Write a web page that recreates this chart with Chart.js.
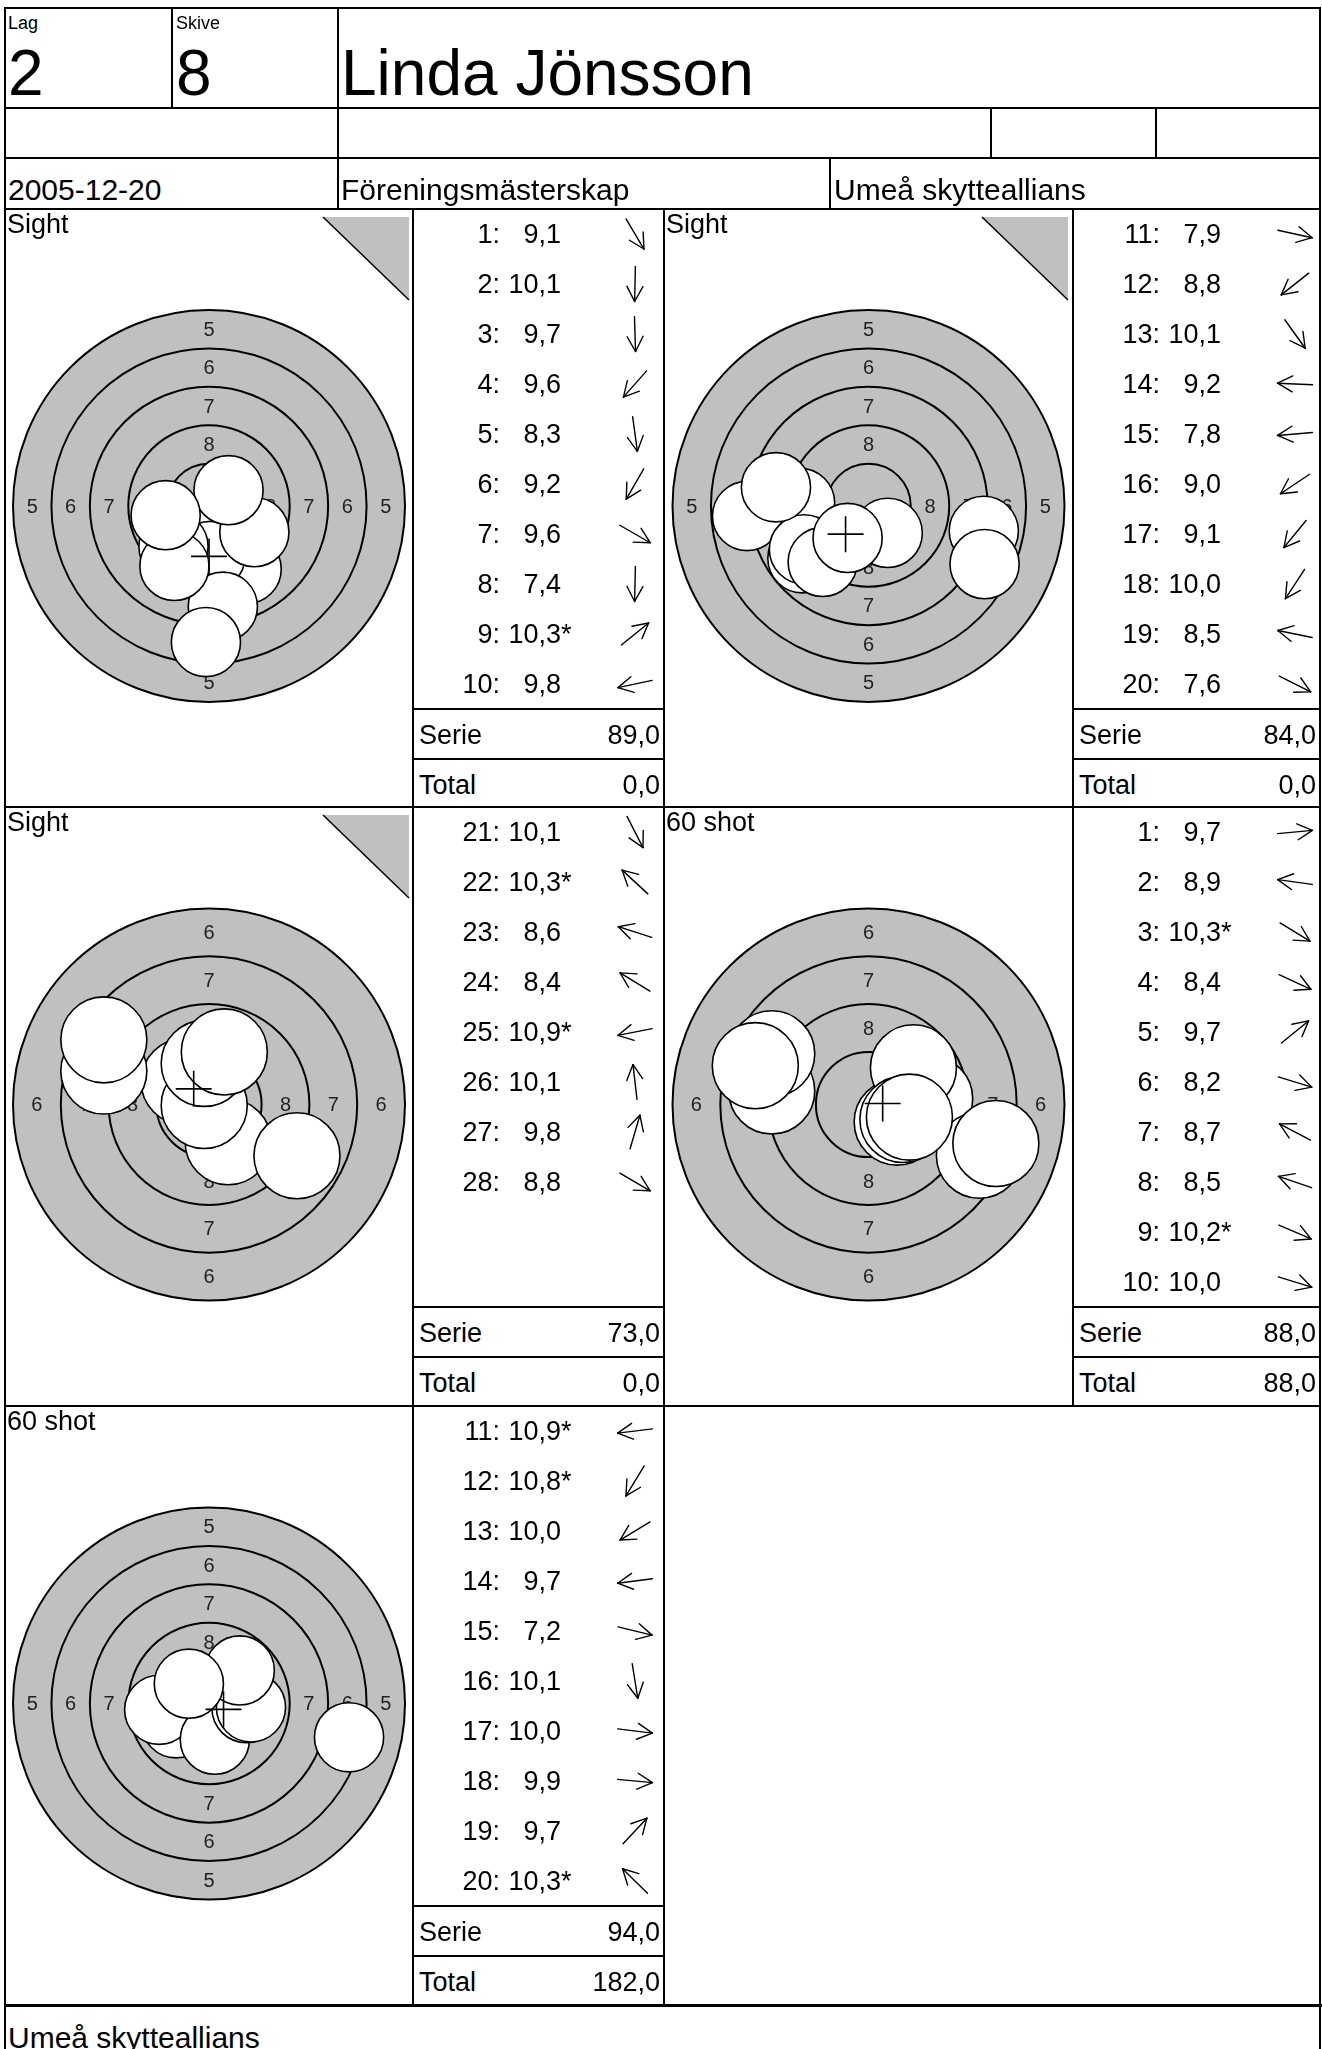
<!DOCTYPE html>
<html><head><meta charset="utf-8">
<script src="https://cdn.jsdelivr.net/npm/chart.js@4.4.1/dist/chart.umd.min.js"></script>
<style>
html,body{margin:0;padding:0;background:#fff;}
body{width:1322px;height:2049px;position:relative;overflow:hidden;font-family:"Liberation Sans",Arial,Helvetica,sans-serif;color:#000;}
.ln{position:absolute;background:#000;z-index:3;}
.t{position:absolute;white-space:nowrap;line-height:1;z-index:4;}
canvas{position:absolute;z-index:1;}
svg{position:absolute;z-index:2;overflow:visible;}
</style></head><body>
<script>
// ---------------- DATA ----------------
const lagNo = "2", skiveNo = "8", shooterName = "Linda Jönsson";
const dateText = "2005-12-20", competition = "Föreningsmästerskap", club = "Umeå skytteallians";

// 10 m air rifle target: ring boundaries (radius, mm) and their values
const ringValues = [5, 6, 7, 8, 9];
const ringRadiusMm = [12.75, 10.25, 7.75, 5.25, 2.75];
const shotRadiusMm = 2.25;

// Panel 1 – Sight
const p1Label = "Sight", p1Sight = true, p1Outer = 5;
const p1No = [1,2,3,4,5,6,7,8,9,10];
const p1Score = ["9,1","10,1","9,7","9,6","8,3","9,2","9,6","7,4","10,3*","9,8"];
const p1X = [2.45,-0.05,0.1,-2.31,0.9,-2.25,2.95,-0.2,1.27,-2.82];
const p1Y = [-4.1,-2.25,-3.25,-2.63,-6.55,-3.9,-1.7,-8.85,1.03,-0.6];
const p1Serie = "89,0", p1Total = "0,0";

// Panel 2 – Sight
const p2Label = "Sight", p2Sight = true, p2Outer = 5;
const p2No = [11,12,13,14,15,16,17,18,19,20];
const p2Score = ["7,9","8,8","10,1","9,2","7,8","9,0","9,1","10,0","8,5","7,6"];
const p2X = [7.5,-4.3,1.25,-4.45,-7.9,-4.2,-2.98,-1.36,-6.02,7.55];
const p2Y = [-1.62,-3.4,-1.75,0.2,-0.65,-2.82,-3.64,-2.08,1.22,-3.78];
const p2Serie = "84,0", p2Total = "0,0";

// Panel 3 – Sight
const p3Label = "Sight", p3Sight = true, p3Outer = 6;
const p3No = [21,22,23,24,25,26,27,28];
const p3Score = ["10,1","10,3*","8,6","8,4","10,9*","10,1","9,8","8,8"];
const p3X = [1.0,-1.3,-5.5,-5.5,-0.25,-0.25,0.8,4.6];
const p3Y = [-1.95,1.2,1.75,3.38,-0.05,2.15,2.75,-2.68];
const p3Serie = "73,0", p3Total = "0,0";

// Panel 4 – 60 shot
const p4Label = "60 shot", p4Sight = false, p4Outer = 6;
const p4No = [1,2,3,4,5,6,7,8,9,10];
const p4Score = ["9,7","8,9","10,3*","8,4","9,7","8,2","8,7","8,5","10,2*","10,0"];
const p4X = [3.2,-5.06,1.5,5.8,2.35,6.66,-5.06,-5.92,1.8,2.14];
const p4Y = [0.3,0.71,-0.92,-2.65,1.92,-2.04,2.65,2.03,-0.78,-0.66];
const p4Serie = "88,0", p4Total = "88,0";

// Panel 5 – 60 shot
const p5Label = "60 shot", p5Sight = false, p5Outer = 5;
const p5No = [11,12,13,14,15,16,17,18,19,20];
const p5Score = ["10,9*","10,8*","10,0","9,7","7,2","10,1","10,0","9,9","9,7","10,3*"];
const p5X = [-0.25,-0.26,-2.14,-3.24,9.11,0.38,2.44,2.73,2.0,-1.31];
const p5Y = [-0.03,-0.43,-1.29,-0.41,-2.2,-2.35,-0.3,-0.25,2.15,1.29];
const p5Serie = "94,0", p5Total = "182,0";

// ---------------- LAYOUT HELPERS ----------------
const body = document.body;
function addLine(x, y, w, h){ const d=document.createElement('div'); d.className='ln';
  d.style.left=x+'px'; d.style.top=y+'px'; d.style.width=w+'px'; d.style.height=h+'px'; body.appendChild(d); }
function hl(x1,x2,y,t=2){ addLine(x1-t/2, y-t/2, x2-x1+t, t); }
function vl(x,y1,y2,t=2){ addLine(x-t/2, y1-t/2, t, y2-y1+t); }
function txt(s, x, base, size, align){ const d=document.createElement('div'); d.className='t'; d.textContent=s;
  d.style.fontSize=size+'px'; d.style.top=(base-0.8465*size)+'px';
  if(align==='right'){ d.style.left=(x-600)+'px'; d.style.width='600px'; d.style.textAlign='right'; }
  else d.style.left=x+'px';
  body.appendChild(d); return d; }
const SVGNS='http://www.w3.org/2000/svg';
function svgEl(tag, attrs, parent){ const e=document.createElementNS(SVGNS,tag); for(const k in attrs) e.setAttribute(k,attrs[k]); if(parent) parent.appendChild(e); return e; }

// ---------------- HEADER ----------------
const XL=5, XR=1320, YT=8;
hl(XL, XR, YT); vl(XL, YT, 2049); vl(XR, YT, 2049);
hl(XL, XR, 108); hl(XL, XR, 158); hl(XL, XR, 209);
vl(172, YT, 108); vl(338, YT, 209); vl(991, 108, 158); vl(1156, 108, 158); vl(830, 158, 209);
txt("Lag", 8, 29, 18); txt("Skive", 176, 29, 18);
txt(lagNo, 8, 95, 64); txt(skiveNo, 176, 95, 64); txt(shooterName, 341, 95, 64);
txt(dateText, 8, 200, 30); txt(competition, 341, 200, 30); txt(club, 834, 200, 30);
txt(club, 8, 2048, 30);

// ---------------- TARGET PLUGIN ----------------
const TARGET_RADIUS_PX = 196;
const ringsPlugin = {
  id: 'rings',
  beforeDatasetsDraw(chart, args, opts){
    const ctx = chart.ctx, xs = chart.scales.x, ys = chart.scales.y;
    const cx = xs.getPixelForValue(0), cy = ys.getPixelForValue(0);
    const start = ringValues.indexOf(opts.outer);
    const rpx = mm => Math.abs(xs.getPixelForValue(mm) - cx);
    ctx.save();
    ctx.beginPath(); ctx.arc(cx, cy, rpx(ringRadiusMm[start]), 0, Math.PI*2);
    ctx.fillStyle = '#c0c0c0'; ctx.fill();
    ctx.strokeStyle = '#000'; ctx.lineWidth = 2;
    for(let i=start;i<ringRadiusMm.length;i++){
      ctx.beginPath(); ctx.arc(cx, cy, rpx(ringRadiusMm[i]), 0, Math.PI*2); ctx.stroke();
    }
    ctx.fillStyle = '#222'; ctx.font = '20px "Liberation Sans", Arial, sans-serif';
    ctx.textAlign = 'center'; ctx.textBaseline = 'middle';
    for(let i=start;i<ringRadiusMm.length-1;i++){
      const r = rpx((ringRadiusMm[i]+ringRadiusMm[i+1])/2);
      const v = String(ringValues[i]);
      ctx.fillText(v, cx, cy-r+1); ctx.fillText(v, cx, cy+r+1);
      ctx.fillText(v, cx-r, cy+1); ctx.fillText(v, cx+r, cy+1);
    }
    ctx.restore();
  }
};
const mean = a => a.reduce((s,v)=>s+v,0)/a.length;

// ---------------- PANELS ----------------
const panels = [
  {tx:5,   tw:408, top:209,  h:598, lx:413,  lw:251, label:p1Label, sight:p1Sight, outer:p1Outer, no:p1No, score:p1Score, x:p1X, y:p1Y, serie:p1Serie, total:p1Total},
  {tx:664, tw:409, top:209,  h:598, lx:1073, lw:247, label:p2Label, sight:p2Sight, outer:p2Outer, no:p2No, score:p2Score, x:p2X, y:p2Y, serie:p2Serie, total:p2Total},
  {tx:5,   tw:408, top:807,  h:599, lx:413,  lw:251, label:p3Label, sight:p3Sight, outer:p3Outer, no:p3No, score:p3Score, x:p3X, y:p3Y, serie:p3Serie, total:p3Total},
  {tx:664, tw:409, top:807,  h:599, lx:1073, lw:247, label:p4Label, sight:p4Sight, outer:p4Outer, no:p4No, score:p4Score, x:p4X, y:p4Y, serie:p4Serie, total:p4Total},
  {tx:5,   tw:408, top:1406, h:599, lx:413,  lw:251, label:p5Label, sight:p5Sight, outer:p5Outer, no:p5No, score:p5Score, x:p5X, y:p5Y, serie:p5Serie, total:p5Total},
];
hl(XL, XR, 807); hl(XL, XR, 1406); hl(XL, XR, 2005, 3);

panels.forEach(p => {
  // borders
  vl(p.lx, p.top, p.top+p.h); vl(p.lx+p.lw, p.top, p.top+p.h);
  hl(p.lx, p.lx+p.lw, p.top+500); hl(p.lx, p.lx+p.lw, p.top+550);
  // label
  txt(p.label, p.tx+2, p.top+25, 27);
  // sight triangle
  if(p.sight){
    const s = svgEl('svg', {width:100, height:100}); s.style.left=(p.tx+310)+'px'; s.style.top=(p.top)+'px';
    svgEl('polygon', {points:'8,8 94,8 94,91', fill:'#c0c0c0', stroke:'none'}, s);
    svgEl('line', {x1:8, y1:8, x2:94, y2:91, stroke:'#000', 'stroke-width':1.5}, s);
    body.appendChild(s);
  }
  // target chart
  const cw = p.tw, ch = p.h - 4;
  const canvas = document.createElement('canvas');
  canvas.width = cw; canvas.height = ch;
  canvas.style.left = p.tx+'px'; canvas.style.top = p.top+'px';
  canvas.style.width = cw+'px'; canvas.style.height = ch+'px';
  body.appendChild(canvas);
  const outerMm = ringRadiusMm[ringValues.indexOf(p.outer)];
  const pxPerMm = TARGET_RADIUS_PX / outerMm;
  const rx = cw/2/pxPerMm, ry = ch/2/pxPerMm;
  const shotR = c => { const s=c.chart.scales.x; return Math.abs(s.getPixelForValue(shotRadiusMm)-s.getPixelForValue(0)); };
  new Chart(canvas, {
    type: 'scatter',
    data: { datasets: [
      // mean point of impact (drawn on top)
      { data: [{x:mean(p.x), y:mean(p.y)}], pointStyle:'cross', pointRadius:18, pointHoverRadius:18,
        borderColor:'#000000', borderWidth:1.6, backgroundColor:'#000000', order:0 },
      // shots
      { data: p.x.map((v,i)=>({x:v, y:p.y[i]})), pointRadius: shotR, pointHoverRadius: shotR,
        backgroundColor:'#ffffff', borderColor:'#000000', borderWidth:1.6, pointStyle:'circle', order:1 }
    ]},
    options: {
      responsive:false, animation:false, devicePixelRatio:1, events:[],
      layout:{padding:0, autoPadding:false},
      plugins:{ legend:{display:false}, tooltip:{enabled:false}, rings:{outer:p.outer} },
      scales:{ x:{type:'linear', min:-rx, max:rx, display:false}, y:{type:'linear', min:-ry, max:ry, display:false} }
    },
    plugins:[ringsPlugin]
  });
  // shot list
  p.no.forEach((n,i) => {
    const cy = p.top + 25 + 50*i, base = cy + 10;
    txt(n+':', p.lx+87, base, 27, 'right');
    const sc = p.score[i], star = sc.endsWith('*');
    txt(star ? sc.slice(0,-1) : sc, p.lx+148, base, 27, 'right');
    if(star) txt('*', p.lx+148, base, 27);
    // direction arrow from the shot position
    const len = Math.hypot(p.x[i], p.y[i]) || 1;
    const ux = p.x[i]/len, uy = -p.y[i]/len;
    const s = svgEl('svg', {width:60, height:60}); s.style.left=(p.lx+222-30)+'px'; s.style.top=(cy-30)+'px';
    const h = 17.5, tipx = 30+ux*h, tipy = 30+uy*h;
    svgEl('line', {x1:30-ux*h, y1:30-uy*h, x2:tipx, y2:tipy, stroke:'#000', 'stroke-width':1.4, 'stroke-linecap':'round'}, s);
    const hl2 = 17, ang = 28*Math.PI/180, a0 = Math.atan2(-uy, -ux);
    [a0+ang, a0-ang].forEach(a => svgEl('line', {x1:tipx, y1:tipy, x2:tipx+Math.cos(a)*hl2, y2:tipy+Math.sin(a)*hl2, stroke:'#000', 'stroke-width':1.4, 'stroke-linecap':'round'}, s));
    body.appendChild(s);
  });
  txt('Serie', p.lx+6, p.top+536, 27); txt(p.serie, p.lx+p.lw-4, p.top+536, 27, 'right');
  txt('Total', p.lx+6, p.top+586, 27); txt(p.total, p.lx+p.lw-4, p.top+586, 27, 'right');
});
</script>
</body></html>
